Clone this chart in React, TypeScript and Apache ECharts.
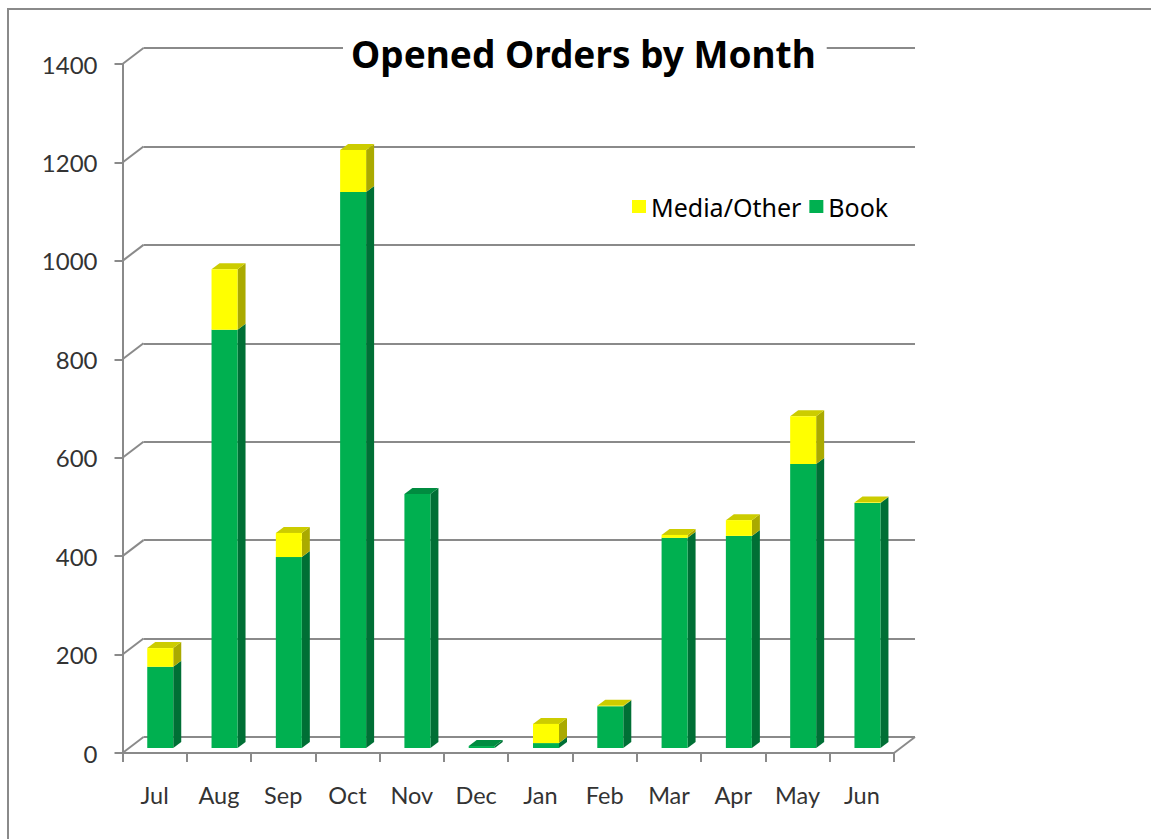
import React, { useEffect, useRef } from "react";
import * as echarts from "echarts";

const months = ["Jul", "Aug", "Sep", "Oct", "Nov", "Dec", "Jan", "Feb", "Mar", "Apr", "May", "Jun"];
const book = [165, 850, 388, 1130, 516, 4, 10, 85, 427, 431, 577, 498];
const media = [38, 123, 49, 85, 0, 0, 39, 1, 6, 32, 97, 1];
const yTicks = [0, 200, 400, 600, 800, 1000, 1200, 1400];

const GRID = { left: 122.5, top: 64, width: 771.5, height: 689 };
const BACK = { dx: 21, dy: -16 };
const BAR = { width: 26, dx: 5.6, dy: -5, sideX: 8, sideY: -6 };
const LINE = "#8a8a8a";

const colors = {
  book: { front: "#00B050", side: "#006F35", top: "#008C40" },
  media: { front: "#FFFF00", side: "#AAAA00", top: "#CCCC00" },
};

export default function App() {
  const ref = useRef<HTMLDivElement>(null);
  useEffect(() => {
    const chart = echarts.init(ref.current!, undefined, { renderer: "svg" });

    const rows: number[][] = [];
    months.forEach((_, i) => {
      rows.push([i, 0, book[i], 0, media[i] > 0 ? 0 : 1]);
      if (media[i] > 0) rows.push([i, book[i], book[i] + media[i], 1, 1]);
    });

    const hiddenCat = (gridIndex: number) => ({
      type: "category" as const,
      gridIndex,
      data: months,
      axisLine: { show: false },
      axisTick: { show: false },
      axisLabel: { show: false },
      splitLine: { show: false },
    });
    const hiddenVal = (gridIndex: number, splitShow: boolean) => ({
      type: "value" as const,
      gridIndex,
      min: 0,
      max: 1400,
      interval: 200,
      axisLine: { show: false },
      axisTick: { show: false },
      axisLabel: { show: false },
      splitLine: { show: splitShow, lineStyle: { color: LINE, width: 2 } },
    });

    chart.setOption({
      animation: false,
      backgroundColor: "#ffffff",
      title: {
        text: "Opened Orders by Month",
        left: 343,
        top: 29,
        padding: [0, 11, 0, 8],
        backgroundColor: "#ffffff",
        z: 5,
        textStyle: {
          fontFamily: "'Noto Sans'",
          fontWeight: "bold",
          fontSize: 37,
          lineHeight: 48,
          color: "#000000",
        },
      },
      legend: {
        data: ["Media/Other", "Book"],
        left: 632,
        top: 194,
        padding: 0,
        itemWidth: 14,
        itemHeight: 13,
        itemGap: 8,
        icon: "rect",
        textStyle: { fontFamily: "'Noto Sans'", fontSize: 25, color: "#000000" },
      },
      graphic: [
        {
          type: "polyline",
          shape: { points: [[8, 845], [8, 9], [1160, 9]] },
          style: { stroke: "#8a8a8a", lineWidth: 2, fill: "none" },
          silent: true,
        },
      ],
      grid: [
        { ...GRID },
        { left: GRID.left + BACK.dx, top: GRID.top + BACK.dy, width: GRID.width, height: GRID.height },
        { left: GRID.left + BAR.dx, top: GRID.top + BAR.dy, width: GRID.width, height: GRID.height },
      ],
      xAxis: [
        {
          type: "category",
          gridIndex: 0,
          data: months,
          axisLine: { show: true, lineStyle: { color: LINE, width: 2 } },
          axisTick: { show: true, length: 9, lineStyle: { color: LINE, width: 2 } },
          axisLabel: { margin: 30, fontFamily: "Lato", fontSize: 23.5, color: "#333333" },
        },
        hiddenCat(1),
        hiddenCat(2),
      ],
      yAxis: [
        {
          type: "value",
          gridIndex: 0,
          min: 0,
          max: 1400,
          interval: 200,
          axisLine: { show: true, lineStyle: { color: LINE, width: 2 } },
          axisTick: { show: true, length: 8, lineStyle: { color: LINE, width: 2 } },
          axisLabel: {
            margin: 25,
            fontFamily: "Lato",
            fontSize: 24,
            color: "#333333",
            formatter: (v: number) => String(v),
          },
          splitLine: { show: false },
        },
        hiddenVal(1, true),
        hiddenVal(2, false),
      ],
      series: [
        {
          type: "custom",
          xAxisIndex: 0,
          yAxisIndex: 0,
          silent: true,
          data: yTicks.map((v) => [0, v]),
          renderItem: (params: any, api: any) => {
            const y = api.coord([0, api.value(1)])[1];
            const x = params.coordSys.x;
            const style = { stroke: LINE, lineWidth: 2, fill: "none" };
            const children: any[] = [
              { type: "line", shape: { x1: x, y1: y, x2: x + BACK.dx, y2: y + BACK.dy }, style },
            ];
            if (api.value(1) === 0) {
              const xr = x + params.coordSys.width;
              children.push({ type: "line", shape: { x1: xr, y1: y, x2: xr + BACK.dx, y2: y + BACK.dy }, style });
            }
            return { type: "group", children };
          },
        },
        {
          name: "Book",
          type: "bar",
          xAxisIndex: 2,
          yAxisIndex: 2,
          stack: "orders",
          barWidth: BAR.width,
          itemStyle: { color: colors.book.front },
          data: book,
          z: 3,
        },
        {
          name: "Media/Other",
          type: "bar",
          xAxisIndex: 2,
          yAxisIndex: 2,
          stack: "orders",
          barWidth: BAR.width,
          itemStyle: { color: colors.media.front },
          data: media,
          z: 3,
        },
        {
          type: "custom",
          xAxisIndex: 2,
          yAxisIndex: 2,
          silent: true,
          z: 3,
          data: rows,
          renderItem: (_: any, api: any) => {
            const i = api.value(0);
            const c = api.value(3) === 1 ? colors.media : colors.book;
            const xr = api.coord([i, 0])[0] + BAR.width / 2;
            const yb = api.coord([i, api.value(1)])[1];
            const yt = api.coord([i, api.value(2)])[1];
            const { sideX: sx, sideY: sy, width: w } = BAR;
            const children: any[] = [
              {
                type: "polygon",
                shape: { points: [[xr, yb], [xr + sx, yb + sy], [xr + sx, yt + sy], [xr, yt]] },
                style: { fill: c.side },
              },
            ];
            if (api.value(4) === 1) {
              children.push({
                type: "polygon",
                shape: { points: [[xr - w, yt], [xr, yt], [xr + sx, yt + sy], [xr - w + sx, yt + sy]] },
                style: { fill: c.top },
              });
            }
            return { type: "group", children };
          },
        },
      ],
    });
    return () => chart.dispose();
  }, []);
  return (
    <div
      ref={ref}
      style={{ position: "fixed", left: 0, top: 0, width: 1151, height: 839 }}
    />
  );
}
